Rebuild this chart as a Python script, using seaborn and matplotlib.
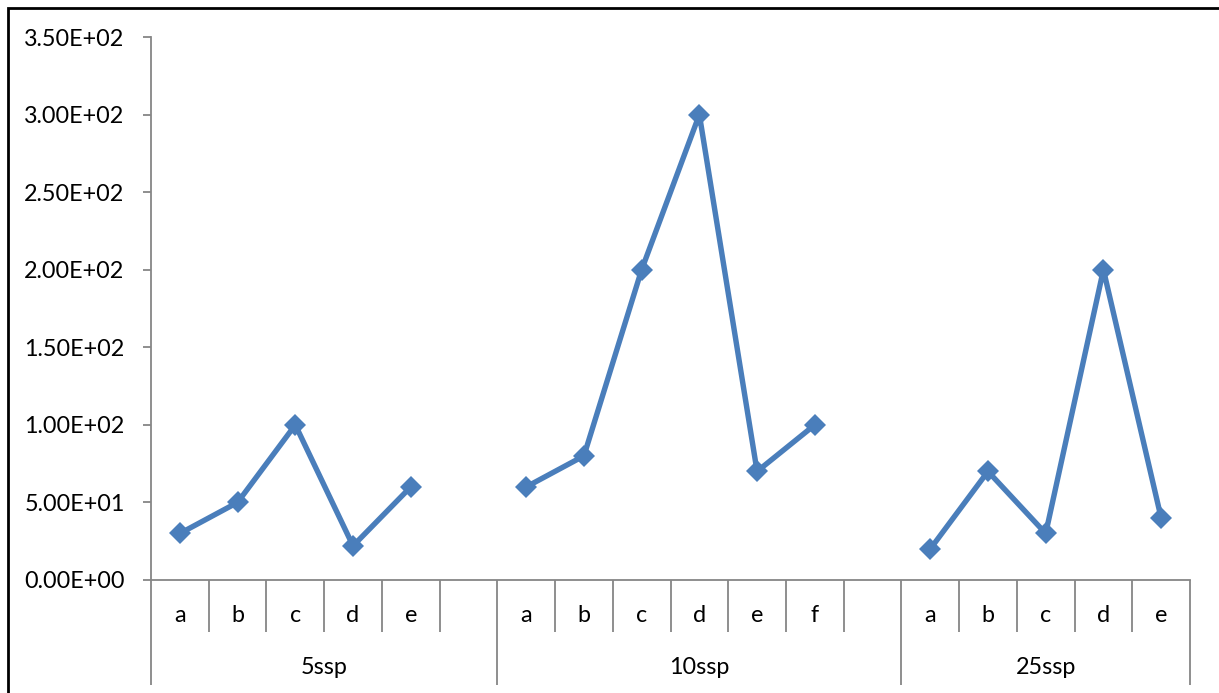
import matplotlib
matplotlib.use("Agg")
import matplotlib.pyplot as plt
import matplotlib.transforms as mtransforms
from matplotlib.patches import Rectangle
from matplotlib.ticker import FuncFormatter, MultipleLocator
import numpy as np
import pandas as pd
import seaborn as sns

# Groups (species counts) and their sub-categories
groups = ["5ssp", "10ssp", "25ssp"]
cats_5 = ["a", "b", "c", "d", "e"]
cats_10 = ["a", "b", "c", "d", "e", "f"]
cats_25 = ["a", "b", "c", "d", "e"]
vals_5 = [30, 50, 100, 22, 60]
vals_10 = [60, 80, 200, 300, 70, 100]
vals_25 = [20, 70, 30, 200, 40]

y_ticks = [0, 50, 100, 150, 200, 250, 300, 350]

sns.set_theme(style="white")
plt.rcParams["font.family"] = ["Lato", "DejaVu Sans"]

LINE = "#4A7EBB"
AXIS = "#868686"
FS = 16.8

# Build the slot layout: each group gets its categories, followed by an empty
# slot except after the last group.
cat_lists = [cats_5, cats_10, cats_25]
val_lists = [vals_5, vals_10, vals_25]
rows = []
slot_labels = []
group_spans = []
slot = 0
for gi, (g, cats, vals) in enumerate(zip(groups, cat_lists, val_lists)):
    start = slot
    for c, v in zip(cats, vals):
        rows.append({"group": g, "cat": c, "x": slot + 0.5, "value": v})
        slot_labels.append(c)
        slot += 1
    if gi < len(groups) - 1:
        slot_labels.append("")
        slot += 1
    group_spans.append((start, slot))
n_slots = slot
df = pd.DataFrame(rows)

fig = plt.figure(figsize=(12.19, 6.93), dpi=100)
ax = fig.add_axes([151 / 1219, 1 - 580 / 693, 1039 / 1219, 543 / 693])

sns.lineplot(data=df, x="x", y="value", units="group", estimator=None,
             color=LINE, linewidth=3.9, marker="D", markersize=11.5,
             markeredgewidth=0, markerfacecolor=LINE, ax=ax, legend=False)

ax.set_xlim(0, n_slots)
ax.set_ylim(y_ticks[0], y_ticks[-1])
ax.yaxis.set_major_locator(MultipleLocator(50))
ax.yaxis.set_major_formatter(FuncFormatter(lambda v, p: "%.2E" % v))
ax.set_xticks([])
ax.set_xlabel("")
ax.set_ylabel("")

for side in ["top", "right"]:
    ax.spines[side].set_visible(False)
for side in ["left", "bottom"]:
    ax.spines[side].set_color(AXIS)
    ax.spines[side].set_linewidth(1.3)

ax.tick_params(axis="y", which="major", direction="out", length=6,
               width=1.3, color=AXIS, left=True, pad=13,
               labelsize=FS, labelcolor="black")

# Multi-level category axis below the plot
trans = mtransforms.blended_transform_factory(ax.transData, ax.transAxes)
ax_h_px = 543.0
short = -52 / ax_h_px
long = -105 / ax_h_px
group_edges = set()
for s, e in group_spans:
    group_edges.add(s)
    group_edges.add(e)
for b in range(n_slots + 1):
    y_end = long if b in group_edges else short
    ax.plot([b, b], [0, y_end], transform=trans, color=AXIS, lw=1.3,
            clip_on=False, solid_capstyle="butt")
for i, lab in enumerate(slot_labels):
    if lab:
        ax.text(i + 0.5, -35 / ax_h_px, lab, transform=trans, ha="center",
                va="center", fontsize=FS, color="black")
for g, (s, e) in zip(groups, group_spans):
    ax.text((s + e) / 2, -88 / ax_h_px, g, transform=trans, ha="center",
            va="center", fontsize=FS, color="black")

# Chart frame
fig.patches.append(Rectangle((8 / 1219, -0.1), 1.2, 1 - 8 / 693 + 0.1,
                             transform=fig.transFigure, fill=False,
                             edgecolor="black", linewidth=2))

fig.savefig("out.png", dpi=100)
